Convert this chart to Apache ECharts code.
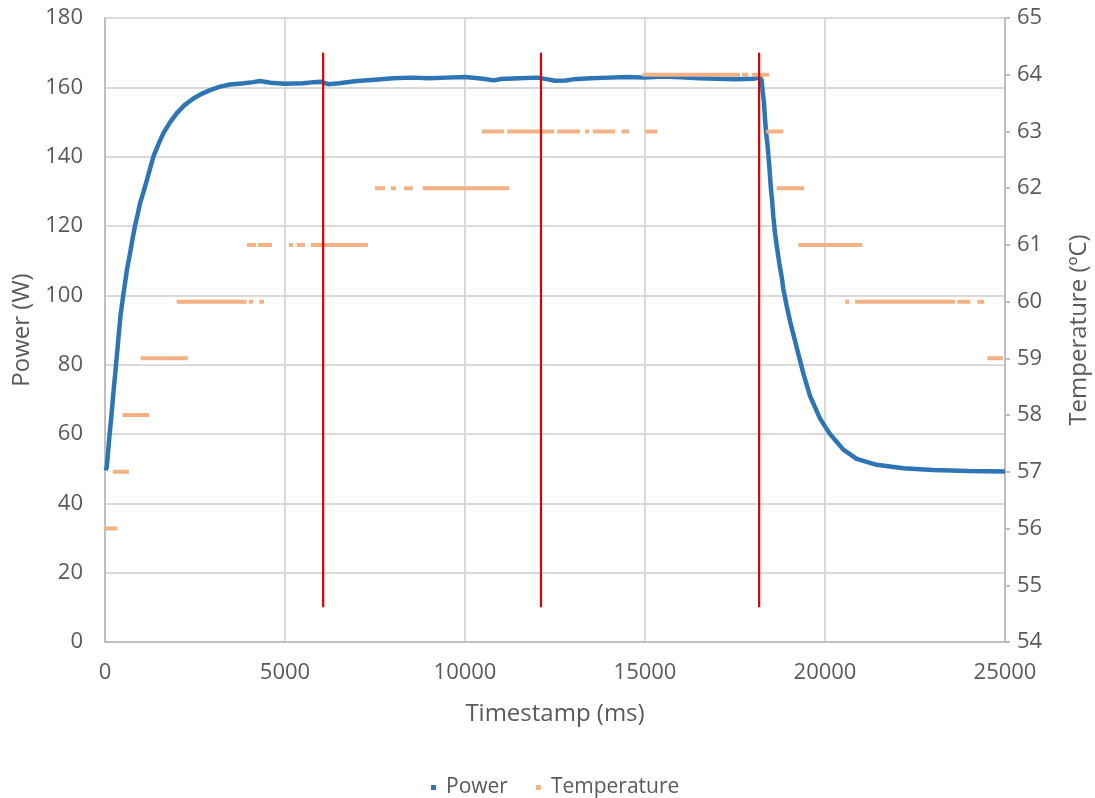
<!DOCTYPE html>
<html>
<head>
<meta charset="utf-8">
<script src="https://cdn.jsdelivr.net/npm/echarts@6/dist/echarts.min.js"></script>
<style>html,body{margin:0;padding:0;background:#fff;}#c{width:1095px;height:798px;}</style>
</head>
<body>
<div id="c"></div>
<script>
// Power series (ms, W)
const powerTime = [20,50,120,180,230,280,324,380,435,500,556,620,694,760,833,900,972,1060,1157,1250,1343,1480,1620,1800,1991,2200,2454,2700,2917,3200,3472,3800,4120,
  4300,4600,5000,5500,5800,6000,6200,6500,7000,7500,8000,8500,9000,9500,10000,10500,10800,11000,11500,12000,12300,12500,12800,13000,13500,14000,14500,15000,15500,16000,16500,17000,17500,18000,18200,
  18240,18270,18306,18333,18361,18398,18426,18454,18493,18529,18565,18612,18676,18731,18796,18843,18935,19030,19213,19398,19583,19861,20000,20139,20509,20880,21435,22175,23000,24000,25000];
const powerValue = [49.5,50.5,59,65.5,71.5,77,82,88.5,94.5,99.5,103.5,108,112,116,120,123,126.5,129.5,133,136.5,140,143.5,146.7,149.8,152.5,154.8,156.8,158.2,159.2,160.2,160.8,161.1,161.5,
  161.8,161.3,161,161.2,161.5,161.6,160.9,161.2,161.8,162.2,162.6,162.8,162.6,162.8,163,162.5,162,162.4,162.6,162.8,162.3,161.9,162,162.3,162.6,162.8,163,162.8,163.1,162.9,162.6,162.5,162.3,162.5,162.8,
  162,158.8,155.4,151,147.2,143.9,140.5,137.1,131.3,127.5,122.7,117.9,113.1,109.2,105.4,101.8,97,92.5,85,77.5,71,64.5,62.2,60,55.5,52.8,51.1,50.1,49.6,49.3,49.2];

// Temperature runs (ms start, ms end, °C)
const tempStart = [0,215,490,990,1990,4000,4285,3945,4250,5110,5330,5720,7500,7945,8305,8825,10465,11175,12565,13335,13550,14350,15000,14935,17695,17965,18365,18660,19260,20560,20835,23675,24230,24510];
const tempEnd   = [340,665,1230,2300,3935,4120,4415,4195,4640,5220,5555,7305,7780,8085,8550,11230,11085,12475,13195,13455,14170,14565,15345,17640,17870,18455,18845,19420,21030,20675,23615,24030,24420,24945];
const tempLevel = [56,57,58,59,60,60,60,61,61,61,61,61,62,62,62,62,63,63,63,63,63,63,63,64,64,64,63,62,61,60,60,60,60,59];

// Red marker lines
const markerTime = [6060,12110,18170];
const markerLow = 10, markerHigh = 170;

const xMin = 0, xMax = 25000, xInterval = 5000;
const pMin = 0, pMax = 180, pInterval = 20;
const tMin = 54, tMax = 65, tInterval = 1;

const powerData = powerTime.map((t,i)=>[t,powerValue[i]]);
const tempData = [];
tempStart.forEach((s,i)=>{ tempData.push([s,tempLevel[i]],[tempEnd[i],tempLevel[i]],['-','-']); });
const markerData = [];
markerTime.forEach(t=>{ markerData.push([t,markerLow],[t,markerHigh],['-','-']); });

const txt = '#595959';
const font = 'Open Sans';
const chart = echarts.init(document.getElementById('c'), null, {renderer:'canvas'});
chart.setOption({
  animation:false,
  backgroundColor:'#fff',
  textStyle:{fontFamily:font},
  grid:{left:105,right:90,top:18,bottom:156,outerBoundsMode:'none',containLabel:false},
  legend:{
    data:[{name:'Power',icon:'rect'},{name:'Temperature',icon:'rect'}],
    bottom:-5, left:426, itemWidth:5, itemHeight:5, itemGap:28,
    textStyle:{color:txt,fontSize:21,fontFamily:font,padding:[0,0,0,5]}
  },
  xAxis:{
    type:'value', min:xMin, max:xMax, interval:xInterval,
    name:'Timestamp (ms)', nameLocation:'middle', nameGap:60,
    nameTextStyle:{color:txt,fontSize:24,fontFamily:font},
    axisLine:{show:true,lineStyle:{color:'#bfbfbf',width:2}},
    axisTick:{show:false},
    axisLabel:{color:txt,fontSize:22,margin:20,fontFamily:font,formatter:v=>String(v)},
    splitLine:{show:true,lineStyle:{color:'#d9d9d9',width:2}}
  },
  yAxis:[{
    type:'value', min:pMin, max:pMax, interval:pInterval,
    name:'Power (W)', nameLocation:'middle', nameGap:71,
    nameTextStyle:{color:txt,fontSize:24,fontFamily:font},
    axisLine:{show:true,lineStyle:{color:'#bfbfbf',width:2}},
    axisTick:{show:false},
    axisLabel:{color:txt,fontSize:22,margin:22,fontFamily:font},
    splitLine:{show:true,lineStyle:{color:'#d9d9d9',width:2}}
  },{
    type:'value', min:tMin, max:tMax, interval:tInterval, position:'right',
    name:'Temperature (ºC)', nameLocation:'middle', nameGap:62,
    nameTextStyle:{color:txt,fontSize:24,fontFamily:font},
    axisLine:{show:true,lineStyle:{color:'#bfbfbf',width:2}},
    axisTick:{show:true,inside:false,length:5,lineStyle:{color:'#bfbfbf',width:2}},
    axisLabel:{color:txt,fontSize:22,margin:12,fontFamily:font},
    splitLine:{show:false}
  }],
  series:[{
    name:'Power', type:'line', yAxisIndex:0, data:powerData,
    showSymbol:false, symbol:'rect', color:'#2e75b6',
    lineStyle:{color:'#2e75b6',width:4.5}, itemStyle:{color:'#2e75b6'}, z:2
  },{
    name:'Temperature', type:'line', yAxisIndex:1, data:tempData,
    showSymbol:false, symbol:'rect', color:'#f4b183', connectNulls:false,
    lineStyle:{color:'#f4b183',width:4}, itemStyle:{color:'#f4b183'}, z:3
  },{
    name:'Markers', type:'line', yAxisIndex:0, data:markerData,
    showSymbol:false, connectNulls:false,
    lineStyle:{color:'#e00000',width:2.2}, itemStyle:{color:'#e00000'}, z:4
  }]
});
</script>
</body>
</html>
